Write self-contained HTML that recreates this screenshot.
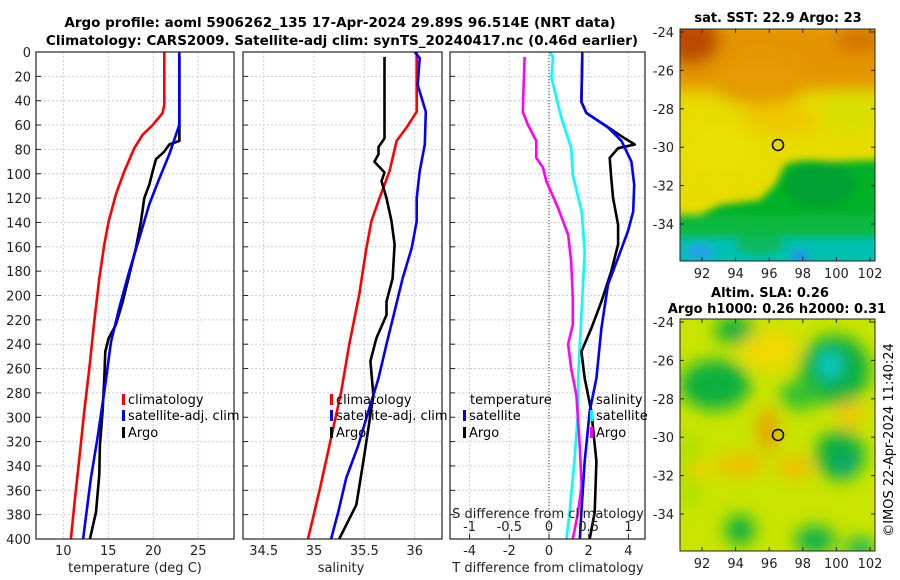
<!DOCTYPE html>
<html><head><meta charset="utf-8"><style>
html,body{margin:0;padding:0;background:#fff;}
svg{display:block;font-family:"DejaVu Sans","Liberation Sans",sans-serif;}
</style></head><body>
<svg id="fig" width="900" height="580" viewBox="0 0 900 580" xmlns="http://www.w3.org/2000/svg">
<defs>
<filter id="blur4" x="-20%" y="-20%" width="140%" height="140%"><feGaussianBlur stdDeviation="4"/></filter>
<filter id="blur8" x="-30%" y="-30%" width="160%" height="160%"><feGaussianBlur stdDeviation="8"/></filter>
<clipPath id="clipMap1"><rect x="680" y="29" width="195" height="232"/></clipPath>
<clipPath id="clipMap2"><rect x="680" y="319" width="195" height="232"/></clipPath>
</defs>
<text x="340" y="27" text-anchor="middle" font-size="13.5" font-weight="bold">Argo profile: aoml 5906262_135 17-Apr-2024 29.89S 96.514E (NRT data)</text>
<text x="342" y="45" text-anchor="middle" font-size="13.5" font-weight="bold">Climatology: CARS2009. Satellite-adj clim: synTS_20240417.nc (0.46d earlier)</text>
<g id="panels"></g>
<g id="maps">
<text x="778" y="22" text-anchor="middle" font-size="13" font-weight="bold">sat. SST: 22.9 Argo: 23</text>
<g clip-path="url(#clipMap1)">
<rect x="680" y="29" width="195" height="232" fill="#e6dc00"/>
<g filter="url(#blur8)">
<rect x="670" y="20" width="215" height="70" fill="#e49400"/>
<ellipse cx="690" cy="40" rx="30" ry="25" fill="#bb4a00"/>
<ellipse cx="860" cy="40" rx="25" ry="12" fill="#d27000"/>
<ellipse cx="760" cy="80" rx="50" ry="25" fill="#e49a00"/>
<ellipse cx="850" cy="110" rx="30" ry="20" fill="#d8e000"/>
<ellipse cx="720" cy="150" rx="40" ry="30" fill="#e8e000"/>
<ellipse cx="780" cy="120" rx="40" ry="15" fill="#efc800"/>
</g>
<g filter="url(#blur4)">
<path d="M785 165 Q800 158 830 162 L880 160 L880 215 L670 225 L670 215 L700 215 L720 205 L760 200 L775 185 Z" fill="#00b028"/>
<ellipse cx="820" cy="185" rx="35" ry="22" fill="#00a030"/>
<rect x="670" y="215" width="215" height="30" fill="#10b840"/>
<rect x="670" y="238" width="215" height="30" fill="#00c0b0"/>
<ellipse cx="760" cy="245" rx="25" ry="10" fill="#10b860"/>
<ellipse cx="700" cy="252" rx="14" ry="8" fill="#20a0e8"/>
<ellipse cx="800" cy="256" rx="10" ry="6" fill="#2090e8"/>
</g>
</g>
<rect x="680" y="29" width="195" height="232" fill="none" stroke="#222" stroke-width="1"/>
<circle cx="778" cy="145" r="5.5" fill="none" stroke="#000" stroke-width="1.5"/>
<text x="770" y="297" text-anchor="middle" font-size="13" font-weight="bold">Altim. SLA: 0.26</text>
<text x="777" y="313" text-anchor="middle" font-size="13" font-weight="bold">Argo h1000: 0.26 h2000: 0.31</text>
<g clip-path="url(#clipMap2)">
<rect x="680" y="319" width="195" height="232" fill="#c8e400"/>
<g filter="url(#blur8)">
<ellipse cx="735" cy="330" rx="20" ry="14" fill="#10b040"/>
<ellipse cx="835" cy="370" rx="35" ry="35" fill="#10b040"/>
<ellipse cx="830" cy="365" rx="12" ry="14" fill="#10c8c8"/>
<ellipse cx="715" cy="385" rx="35" ry="25" fill="#10b040"/>
<ellipse cx="800" cy="395" rx="20" ry="15" fill="#30c030"/>
<ellipse cx="840" cy="455" rx="25" ry="25" fill="#10b040"/>
<ellipse cx="845" cy="465" rx="8" ry="8" fill="#10a090"/>
<ellipse cx="740" cy="530" rx="15" ry="15" fill="#10b040"/>
<ellipse cx="815" cy="540" rx="20" ry="14" fill="#10b050"/>
<ellipse cx="860" cy="548" rx="15" ry="10" fill="#10b060"/>
<ellipse cx="690" cy="470" rx="10" ry="40" fill="#a8e000"/>
<ellipse cx="770" cy="350" rx="30" ry="20" fill="#f0d800"/>
<ellipse cx="850" cy="415" rx="14" ry="14" fill="#f0c800"/>
<ellipse cx="768" cy="430" rx="10" ry="22" fill="#e8a000"/>
<ellipse cx="740" cy="465" rx="25" ry="12" fill="#f0c000"/>
<ellipse cx="795" cy="468" rx="18" ry="12" fill="#f0c000"/>
<ellipse cx="700" cy="470" rx="12" ry="10" fill="#f0d000"/>
</g>
</g>
<rect x="680" y="319" width="195" height="232" fill="none" stroke="#222" stroke-width="1"/>
<circle cx="778" cy="435" r="5.5" fill="none" stroke="#000" stroke-width="1.5"/>
<text transform="translate(893,440) rotate(-90)" text-anchor="middle" font-size="13">©IMOS 22-Apr-2024 11:40:24</text>
</g>
</svg>
<script>
// ---- data (depth in m) ----
const depthClim = [0, 43, 50, 60, 68, 79, 98, 117, 139, 158, 186, 221, 260, 295, 334, 372, 400];
const tempClim = [21.22, 21.22, 21.04, 19.93, 18.81, 17.89, 16.78, 15.85, 15.04, 14.56, 14.0, 13.44, 12.89, 12.33, 11.78, 11.22, 10.85];
const depthSatT = [0, 60, 84, 104, 125, 153, 180, 210, 238, 279, 317, 350, 400];
const tempSat = [22.89, 22.89, 21.78, 20.67, 19.56, 18.44, 17.33, 16.22, 15.3, 14.56, 13.8, 13.07, 12.2];
const depthArgoT = [4, 60, 73, 76, 82, 88, 98, 109, 120, 139, 161, 183, 205, 224, 235, 246, 268, 295, 323, 347, 378, 400];
const tempArgo = [22.9, 22.9, 22.9, 21.78, 21.2, 20.3, 19.93, 19.56, 19.0, 18.63, 18.07, 17.33, 16.6, 15.85, 15.04, 14.67, 14.56, 14.37, 14.07, 14.0, 13.63, 12.96];

const depthClimS = [0, 49, 62, 73, 98, 120, 139, 161, 199, 240, 279, 317, 358, 400];
const salClim = [36.02, 36.02, 35.92, 35.82, 35.75, 35.65, 35.57, 35.52, 35.45, 35.35, 35.27, 35.17, 35.06, 34.94];
const depthSatS = [0, 5, 27, 49, 76, 98, 120, 139, 161, 186, 213, 240, 268, 295, 323, 350, 378, 400];
const salSat = [36.0, 36.05, 36.03, 36.11, 36.1, 36.05, 36.02, 36.02, 35.97, 35.88, 35.8, 35.72, 35.64, 35.54, 35.44, 35.32, 35.24, 35.17];
const depthArgoS = [4, 71, 78, 84, 90, 99, 106, 120, 139, 158, 186, 205, 216, 235, 254, 282, 309, 336, 372, 400];
const salArgo = [35.7, 35.7, 35.64, 35.64, 35.6, 35.7, 35.67, 35.72, 35.77, 35.8, 35.78, 35.72, 35.72, 35.62, 35.56, 35.59, 35.54, 35.49, 35.42, 35.25];

const depthDSArgo = [4, 49, 60, 73, 87, 95, 106, 128, 150, 172, 202, 224, 240, 260, 282, 323, 356, 378, 400];
const sDiffArgo = [-0.307, -0.33, -0.265, -0.16, -0.16, -0.076, -0.034, 0.113, 0.24, 0.28, 0.30, 0.30, 0.24, 0.28, 0.345, 0.387, 0.41, 0.366, 0.30];
const depthDSSat = [0, 4, 21, 54, 79, 101, 131, 164, 213, 268, 295, 336, 378, 400];
const sDiffSat = [0.008, 0.05, 0.03, 0.155, 0.28, 0.30, 0.41, 0.45, 0.41, 0.366, 0.366, 0.32, 0.26, 0.22];
const depthDTSat = [0, 41, 50, 62, 73, 90, 109, 131, 147, 169, 191, 227, 268, 295, 336, 378, 400];
const tDiffSat = [1.68, 1.63, 1.88, 2.97, 3.65, 4.15, 4.29, 4.24, 3.98, 3.48, 2.97, 2.64, 2.39, 2.05, 1.80, 1.63, 1.55];
const depthDTArgo = [4, 41, 50, 60, 71, 76, 79, 87, 104, 120, 142, 158, 180, 205, 227, 246, 268, 295, 336, 378, 400];
const tDiffArgo = [1.68, 1.63, 1.88, 2.8, 3.82, 4.32, 3.48, 3.06, 3.14, 3.23, 3.48, 3.48, 3.14, 2.64, 2.13, 1.63, 1.80, 2.13, 2.39, 2.30, 2.05];

const depthTicks = [0,20,40,60,80,100,120,140,160,180,200,220,240,260,280,300,320,340,360,380,400];
const tempTicks = [10,15,20,25];
const salTicks = [34.5,35,35.5,36];
const sTickLabels = ["-1","-0.5","0","0.5","1"];
const sTicks = [-1,-0.5,0,0.5,1];
const tDiffTicks = [-4,-2,0,2,4];
const latTicks = [-24,-26,-28,-30,-32,-34];
const lonTicks = [92,94,96,98,100,102];

const NS = "http://www.w3.org/2000/svg";
const root = document.getElementById('panels');
function mk(tag, attrs, parent){ const e=document.createElementNS(NS,tag); for(const k in attrs) e.setAttribute(k,attrs[k]); (parent||root).appendChild(e); return e; }
const Y0=52, Y1=539;
const yD = d => Y0 + d*(Y1-Y0)/400;
function lin(d0,d1,r0,r1){ return v => r0 + (v-d0)*(r1-r0)/(d1-d0); }

function panel(name, x0, x1, xs, xt, xtl){
  const g = mk('g',{});
  
  
  // grid
  xt.forEach(v=>{ const l=mk('line',{x1:xs(v),x2:xs(v),y1:Y0,y2:Y1,stroke:'#c8cce8','stroke-width':1,'stroke-dasharray':'2,2'},g); });
  depthTicks.forEach(d=>{ mk('line',{x1:x0,x2:x1,y1:yD(d),y2:yD(d),stroke:'#c8cce8','stroke-width':1,'stroke-dasharray':'2,2'},g);
    mk('line',{x1:x0,x2:x0+5,y1:yD(d),y2:yD(d),stroke:'#222','stroke-width':1},g); });
  return g;
}
function frame(g,x0,x1){ mk('rect',{x:x0,y:Y0,width:x1-x0,height:Y1-Y0,fill:'none',stroke:'#222','stroke-width':1.2},g); }
function series(g, xs, depths, vals, color, name){
  const pts = vals.map((v,i)=>xs(v).toFixed(1)+','+yD(depths[i]).toFixed(1)).join(' ');
  const p = mk('polyline',{points:pts,fill:'none',stroke:color,'stroke-width':2.6,'stroke-linejoin':'round'},g);
  
  
}
function legendItem(g, x, y, color, label, name){
  if(color) mk('rect',{x:x,y:y-10,width:3,height:11,fill:color},g);
  const t = mk('text',{x:x+(color?6:0),y:y,'font-size':13},g); t.textContent=label;
  
  
}

// Y axis labels
const ylab = mk('g',{});


depthTicks.forEach(d=>{ const t=mk('text',{x:31,y:yD(d)+5,'text-anchor':'end','font-size':13,fill:'#222'},ylab); t.textContent=d; });

// Panel 1 temperature
const xT = lin(10,25,63.3,198.3);
const g1 = panel('temperature-panel',36,234,xT,tempTicks);
series(g1,xT,depthClim,tempClim,'#ff0000','climatology-temp-line');
series(g1,xT,depthArgoT,tempArgo,'#000000','argo-temp-line');
series(g1,xT,depthSatT,tempSat,'#0000ff','satellite-temp-line');
frame(g1,36,234);
tempTicks.forEach(v=>{ const t=mk('text',{x:xT(v),y:555,'text-anchor':'middle','font-size':13,fill:'#222'},g1); t.textContent=v; });
let at=mk('text',{x:135,y:572,'text-anchor':'middle','font-size':13,fill:'#222'},g1); at.textContent='temperature (deg C)';
 
legendItem(g1,122,404,'#ff0000','climatology','legend-climatology');
legendItem(g1,122,420,'#0000ff','satellite-adj. clim','legend-satellite-adj');
legendItem(g1,122,437,'#000000','Argo','legend-argo');

// Panel 2 salinity
const xS = lin(34.5,36,263.7,414.7);
const g2 = panel('salinity-panel',243,442,xS,salTicks);
series(g2,xS,depthClimS,salClim,'#ff0000','climatology-salinity-line');
series(g2,xS,depthArgoS,salArgo,'#000000','argo-salinity-line');
series(g2,xS,depthSatS,salSat,'#0000ff','satellite-salinity-line');
frame(g2,243,442);
salTicks.forEach(v=>{ const t=mk('text',{x:xS(v),y:555,'text-anchor':'middle','font-size':13,fill:'#222'},g2); t.textContent=v; });
at=mk('text',{x:341,y:572,'text-anchor':'middle','font-size':13,fill:'#222'},g2); at.textContent='salinity';
 
legendItem(g2,330,404,'#ff0000','climatology','legend2-climatology');
legendItem(g2,330,420,'#0000ff','satellite-adj. clim','legend2-satellite-adj');
legendItem(g2,330,437,'#000000','Argo','legend2-argo');

// Panel 3 differences
const xDT = lin(0,4,549,628.4);
const xDS = lin(0,1,549,628.4);
const g3 = panel('difference-panel',450,645,xDT,tDiffTicks);
mk('line',{x1:xDT(0),x2:xDT(0),y1:Y0,y2:Y1,stroke:'#333','stroke-width':1,'stroke-dasharray':'1,2'},g3);
series(g3,xDS,depthDSSat,sDiffSat,'#00ffff','satellite-sdiff-line');
series(g3,xDS,depthDSArgo,sDiffArgo,'#ff00ff','argo-sdiff-line');
series(g3,xDT,depthDTArgo,tDiffArgo,'#000000','argo-tdiff-line');
series(g3,xDT,depthDTSat,tDiffSat,'#0000ff','satellite-tdiff-line');
frame(g3,450,645);
tDiffTicks.forEach(v=>{ const t=mk('text',{x:xDT(v),y:555,'text-anchor':'middle','font-size':13,fill:'#222'},g3); t.textContent=v; });
sTicks.forEach((v,i)=>{ mk('line',{x1:xDS(v),x2:xDS(v),y1:Y1,y2:Y1-5,stroke:'#222'},g3);
  const t=mk('text',{x:xDS(v),y:531,'text-anchor':'middle','font-size':13,fill:'#222'},g3); t.textContent=sTickLabels[i]; });
at=mk('text',{x:548,y:518,'text-anchor':'middle','font-size':13,fill:'#222'},g3); at.textContent='S difference from climatology';
 
at=mk('text',{x:548,y:572,'text-anchor':'middle','font-size':13,fill:'#222'},g3); at.textContent='T difference from climatology';
 
legendItem(g3,470,404,null,'temperature','legend3-temperature-header');
legendItem(g3,463,420,'#0000ff','satellite','legend3-temp-satellite');
legendItem(g3,463,437,'#000000','Argo','legend3-temp-argo');
legendItem(g3,596,404,null,'salinity','legend3-salinity-header');
legendItem(g3,590,420,'#00ffff','satellite','legend3-sal-satellite');
legendItem(g3,590,437,'#ff00ff','Argo','legend3-sal-argo');

// map axes
const maps = document.getElementById('maps');
function mapAxes(top, name){
  const g = mk('g',{},maps);
  
  
  const yL = lin(-24,-34,top+3,top+195);
  const xL = lin(92,102,702,870);
  latTicks.forEach(v=>{ const y=yL(v);
    mk('line',{x1:680,x2:684,y1:y,y2:y,stroke:'#222'},g); mk('line',{x1:871,x2:875,y1:y,y2:y,stroke:'#222'},g);
    const t=mk('text',{x:674,y:y+5,'text-anchor':'end','font-size':13,fill:'#222'},g); t.textContent=v; });
  lonTicks.forEach(v=>{ const x=xL(v);
    mk('line',{x1:x,x2:x,y1:top,y2:top+4,stroke:'#222'},g); mk('line',{x1:x,x2:x,y1:top+228,y2:top+232,stroke:'#222'},g);
    const t=mk('text',{x:x,y:top+249,'text-anchor':'middle','font-size':13,fill:'#222'},g); t.textContent=v; });
}
mapAxes(29,'sst-map-axes');
mapAxes(319,'sla-map-axes');
</script>
</body></html>
